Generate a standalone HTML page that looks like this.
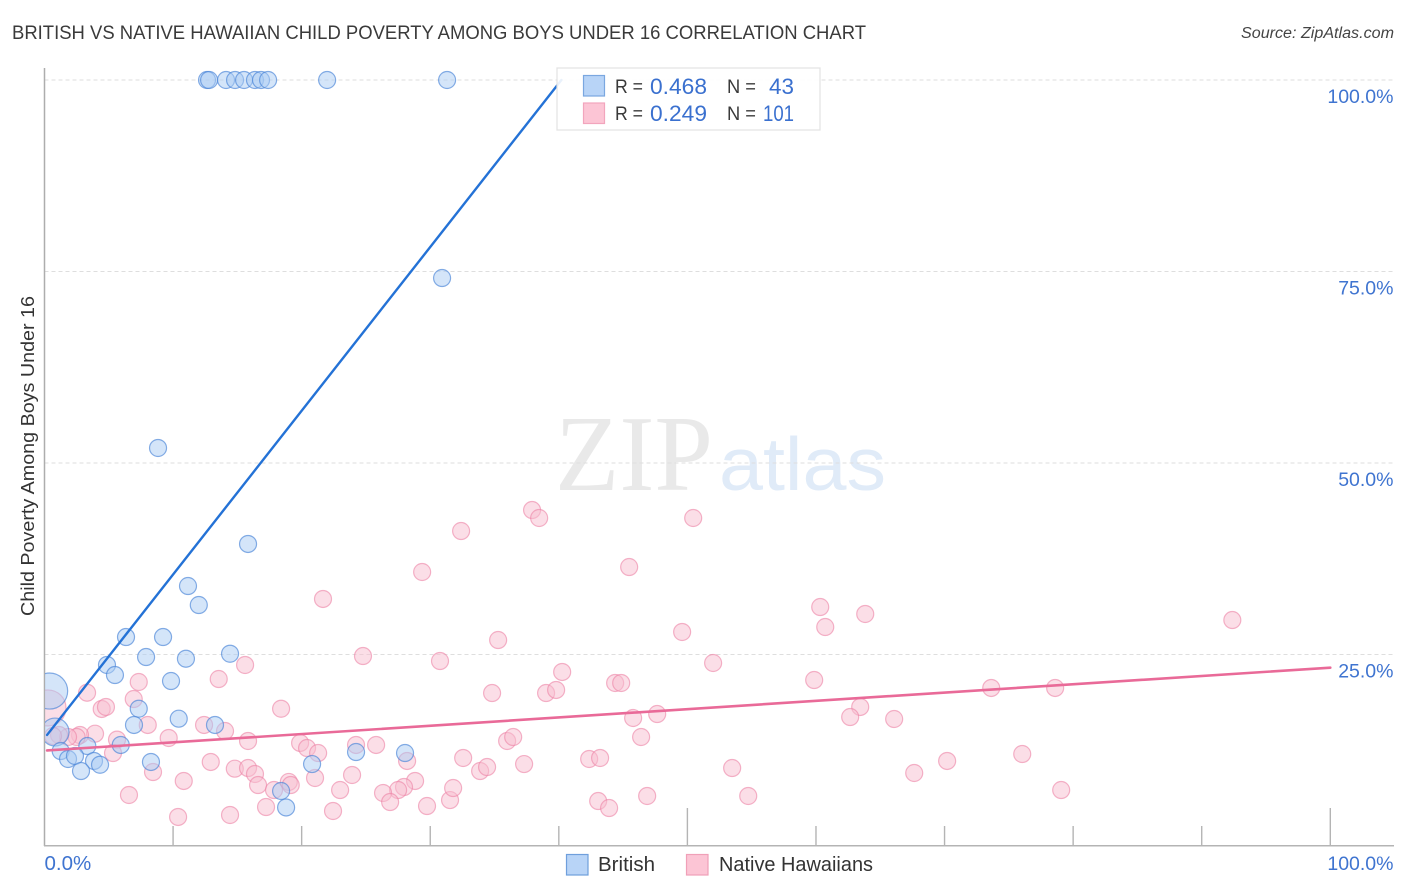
<!DOCTYPE html>
<html lang="en">
<head>
<meta charset="utf-8">
<title>British vs Native Hawaiian Child Poverty Among Boys Under 16 Correlation Chart</title>
<style>
  html, body { margin: 0; padding: 0; background: #fff; }
  body { width: 1406px; height: 892px; overflow: hidden; }
  svg { display: block; font-family: "Liberation Sans", sans-serif; }
</style>
</head>
<body>
<svg id="chart" xmlns="http://www.w3.org/2000/svg" width="1406" height="892" viewBox="0 0 1406 892">
  <defs>
    <clipPath id="plot-clip"><rect x="45" y="60" width="1350" height="786"></rect></clipPath>
  </defs>
  <rect x="0" y="0" width="1406" height="892" fill="#ffffff"></rect>
  <text x="12" y="39" font-size="19" fill="#3a3a3a" textLength="854" lengthAdjust="spacingAndGlyphs">BRITISH VS NATIVE HAWAIIAN CHILD POVERTY AMONG BOYS UNDER 16 CORRELATION CHART</text>
  <text x="1241" y="38" font-size="15.5" font-style="italic" fill="#444444" textLength="153" lengthAdjust="spacingAndGlyphs">Source: ZipAtlas.com</text>

  <g>
    <text x="555" y="490" font-family="'Liberation Serif', serif" font-size="108" fill="#e9e9e9" textLength="158" lengthAdjust="spacingAndGlyphs">ZIP</text>
    <text x="719" y="490" font-size="75" fill="#e0ebf8" textLength="167" lengthAdjust="spacingAndGlyphs">atlas</text>
  </g>

  <g id="grid"></g>
  <g id="axes"></g>
  <g id="points" clip-path="url(#plot-clip)"></g>
  <g id="trends"></g>
  <g id="labels"></g>

  <text transform="translate(34 456) rotate(-90)" text-anchor="middle" font-size="18" fill="#333333" textLength="320" lengthAdjust="spacingAndGlyphs">Child Poverty Among Boys Under 16</text>

  <g>
    <rect x="557" y="68" width="263" height="62" fill="#ffffff" fill-opacity="0.9" stroke="#e2e2e2" stroke-width="1.2"></rect>
    <rect x="583.5" y="75.5" width="21" height="20.5" fill="#b8d4f7" stroke="#7aa7e0" stroke-width="1.2"></rect>
    <rect x="583.5" y="103" width="21" height="20.5" fill="#fcc5d5" stroke="#f2a5bd" stroke-width="1.2"></rect>
    <text x="615" y="93" font-size="19" fill="#3a3a3a" textLength="28" lengthAdjust="spacingAndGlyphs">R =</text>
    <text x="650" y="94" font-size="22" fill="#3a70cf" textLength="57" lengthAdjust="spacingAndGlyphs">0.468</text>
    <text x="727" y="93" font-size="19" fill="#3a3a3a" textLength="29" lengthAdjust="spacingAndGlyphs">N =</text>
    <text x="769" y="94" font-size="22" fill="#3a70cf" textLength="25" lengthAdjust="spacingAndGlyphs">43</text>
    <text x="615" y="120" font-size="19" fill="#3a3a3a" textLength="28" lengthAdjust="spacingAndGlyphs">R =</text>
    <text x="650" y="121" font-size="22" fill="#3a70cf" textLength="57" lengthAdjust="spacingAndGlyphs">0.249</text>
    <text x="727" y="120" font-size="19" fill="#3a3a3a" textLength="29" lengthAdjust="spacingAndGlyphs">N =</text>
    <text x="763" y="121" font-size="22" fill="#3a70cf" textLength="31" lengthAdjust="spacingAndGlyphs">101</text>
  </g>

  <g>
    <g>
      <rect x="566.5" y="854.5" width="21.5" height="20.5" fill="#b8d4f7" stroke="#6f9fdc" stroke-width="1.2"></rect>
      <text x="598" y="871" font-size="20" fill="#333333" textLength="57" lengthAdjust="spacingAndGlyphs">British</text>
    </g>
    <g>
      <rect x="686.5" y="854.5" width="21.5" height="20.5" fill="#fcc5d5" stroke="#f0a0b8" stroke-width="1.2"></rect>
      <text x="719" y="871" font-size="20" fill="#333333" textLength="154" lengthAdjust="spacingAndGlyphs">Native Hawaiians</text>
    </g>
  </g>
</svg>

<script>
const xTickValues = [0, 10, 20, 30, 40, 50, 60, 70, 80, 90, 100];
const xMajorTicks = [50, 100];
const yGridValues = [100, 75, 50, 25];
const yTickLabels = ["100.0%", "75.0%", "50.0%", "25.0%"];
const xEndValues = [0, 100];
const xEndLabels = ["0.0%", "100.0%"];

const britishX = [12.64, 12.8, 14.12, 14.82, 15.52, 16.37, 16.84, 17.39, 21.98, 31.31,
  30.92, 8.83, 15.83, 11.16, 12.0, 6.34, 9.22, 4.86, 7.9, 11.0, 14.43, 5.48, 9.84,
  7.33, 6.96, 10.44, 13.26, 3.33, 5.93, 1.26, 1.83, 2.37, 3.85, 4.32, 2.84, 8.28,
  18.4, 18.79, 20.81, 24.23, 28.04];
const britishY = [100, 100, 100, 100, 100, 100, 100, 100, 100, 100,
  74.15, 51.96, 39.43, 33.94, 31.46, 27.28, 27.28, 23.63, 24.67, 24.45, 25.1, 22.32, 21.54,
  17.92, 15.8, 16.62, 15.8, 13.05, 13.19, 12.4, 11.36, 11.75, 11.1, 10.61, 9.79, 10.97,
  7.18, 5.03, 10.7, 12.27, 12.14];
const britishClusterX = [0.4, 0.82];
const britishClusterY = [20.23, 14.88];
const britishClusterCount = [4.5, 2.7];

const hawaiianX = [3.31, 4.45, 4.78, 6.94, 7.33, 13.55, 15.6, 18.4, 24.77, 21.66, 29.37, 32.4,
  37.92, 38.47, 45.47, 50.45, 60.33, 63.83, 60.72, 49.59, 52.0, 35.28, 30.76, 40.26,
  34.81, 39.01, 39.79, 44.38, 44.85, 59.86, 73.63, 78.6, 92.38, 63.44, 62.66, 66.08,
  45.78, 47.65, 46.4, 35.98, 36.45, 32.56, 25.79, 24.23, 19.88, 20.42, 21.28, 15.83,
  14.04, 12.41, 8.03, 9.66, 5.64, 5.33, 3.93, 2.76, 2.5, 1.83, 1.13, 0.66,
  12.93, 14.8, 15.83, 16.37, 16.61, 17.85, 19.0, 19.15, 21.04, 23.92, 22.99, 22.44,
  17.23, 14.43, 10.39, 6.57, 8.44, 10.83, 28.2, 28.82, 27.96, 27.5, 26.33, 26.88,
  29.75, 31.54, 31.78, 33.88, 34.42, 37.3, 42.36, 43.21, 53.48, 54.73, 43.06, 43.91,
  46.87, 67.64, 70.2, 76.04, 79.07];
const hawaiianY = [20.01, 17.89, 18.15, 19.19, 21.41, 21.8, 23.63, 17.92, 24.8, 32.25, 35.77, 41.12,
  43.86, 42.82, 36.42, 42.82, 31.2, 30.29, 28.59, 27.94, 23.89, 26.89, 24.15, 22.72,
  19.97, 19.97, 20.37, 21.28, 21.28, 21.67, 20.63, 20.63, 29.5, 18.15, 16.84, 16.58,
  16.71, 17.23, 14.23, 13.71, 14.23, 11.49, 13.19, 13.19, 13.45, 12.79, 12.14, 13.71,
  15.01, 15.8, 15.8, 14.1, 13.89, 12.14, 14.66, 14.49, 14.23, 14.23, 14.49, 14.36,
  10.97, 10.09, 10.18, 9.4, 7.96, 7.31, 8.36, 7.96, 8.88, 9.27, 7.31, 4.57,
  5.09, 4.05, 3.79, 6.66, 9.66, 8.49, 11.1, 8.49, 7.7, 7.31, 6.92, 5.74,
  5.22, 6.0, 7.57, 9.79, 10.31, 10.7, 11.36, 11.49, 10.18, 6.53, 5.87, 4.96,
  6.53, 9.53, 11.1, 12.01, 7.31];
const hawaiianClusterX = [0.27];
const hawaiianClusterY = [18.02];
const hawaiianClusterCount = [4.5];

const britishTrendX = [0.2, 40.2];
const britishTrendY = [14.5, 100];
const hawaiianTrendX = [0.2, 100];
const hawaiianTrendY = [12.47, 23.28];

const NS = "http://www.w3.org/2000/svg";
function xScale(v) { return 44.5 + v * 12.858; }
function yScale(v) { return 846 - v * 7.66; }
function rScale(count) { return 8.5 * Math.sqrt(count); }

function make(tag, attrs, parent) {
  const el = document.createElementNS(NS, tag);
  for (const k in attrs) el.setAttribute(k, attrs[k]);
  parent.appendChild(el);
  return el;
}

const gridGroup = document.getElementById("grid");
const axesGroup = document.getElementById("axes");
const pointsGroup = document.getElementById("points");
const trendsGroup = document.getElementById("trends");
const labelsGroup = document.getElementById("labels");

yGridValues.forEach(function (v, i) {
  const line = make("line", { x1: 44.5, x2: 1394, y1: yScale(v), y2: yScale(v), stroke: "#dedede", "stroke-width": 1, "stroke-dasharray": "4 3" }, gridGroup);
  
  
  const label = make("text", { x: 1393.5, y: yScale(v) + 23, "text-anchor": "end", "font-size": 19.5, fill: "#3f74d0" }, labelsGroup);
  
  
  label.textContent = yTickLabels[i];
});

const yAxis = make("line", { x1: 44.5, x2: 44.5, y1: 68, y2: 846, stroke: "#adadad", "stroke-width": 1.5 }, axesGroup);


const xAxis = make("line", { x1: 44, x2: 1394, y1: 845.7, y2: 845.7, stroke: "#b4b4b4", "stroke-width": 1.5 }, axesGroup);



xTickValues.forEach(function (v) {
  if (v === 0) return;
  const top = xMajorTicks.indexOf(v) >= 0 ? 808 : 826;
  const tick = make("line", { x1: xScale(v), x2: xScale(v), y1: top, y2: 846, stroke: "#b4b4b4", "stroke-width": 1.4 }, axesGroup);
  
  
});

xEndValues.forEach(function (v, i) {
  const anchor = i === 0 ? "start" : "end";
  const px = i === 0 ? xScale(v) : 1393.5;
  const size = i === 0 ? 20.5 : 19.5;
  const label = make("text", { x: px, y: 870, "text-anchor": anchor, "font-size": size, fill: "#3f74d0" }, labelsGroup);
  
  
  label.textContent = xEndLabels[i];
});

function drawPoint(xv, yv, count, fill, stroke, name) {
  const c = make("circle", { cx: xScale(xv), cy: yScale(yv), r: rScale(count), fill: fill, stroke: stroke, "stroke-width": 1.2 }, pointsGroup);
  
  
}

const pinkFill = "rgba(248,190,208,0.5)";
const pinkStroke = "rgba(236,130,165,0.6)";
const blueFill = "rgba(170,204,244,0.5)";
const blueStroke = "rgba(70,130,215,0.65)";

hawaiianClusterX.forEach(function (v, i) {
  drawPoint(v, hawaiianClusterY[i], hawaiianClusterCount[i], pinkFill, pinkStroke, "native-hawaiian-cluster-point");
});
hawaiianX.forEach(function (v, i) {
  drawPoint(v, hawaiianY[i], 1, pinkFill, pinkStroke, "native-hawaiian-point");
});
britishClusterX.forEach(function (v, i) {
  drawPoint(v, britishClusterY[i], britishClusterCount[i], blueFill, blueStroke, "british-cluster-point");
});
britishX.forEach(function (v, i) {
  drawPoint(v, britishY[i], 1, blueFill, blueStroke, "british-point");
});

const blueTrend = make("line", { x1: xScale(britishTrendX[0]), y1: yScale(britishTrendY[0]), x2: xScale(britishTrendX[1]), y2: yScale(britishTrendY[1]), stroke: "#2472d6", "stroke-width": 2.4, "stroke-linecap": "round" }, trendsGroup);


const pinkTrend = make("line", { x1: xScale(hawaiianTrendX[0]), y1: yScale(hawaiianTrendY[0]), x2: xScale(hawaiianTrendX[1]), y2: yScale(hawaiianTrendY[1]), stroke: "#e96a98", "stroke-width": 2.6, "stroke-linecap": "round" }, trendsGroup);


</script>
</body>
</html>
